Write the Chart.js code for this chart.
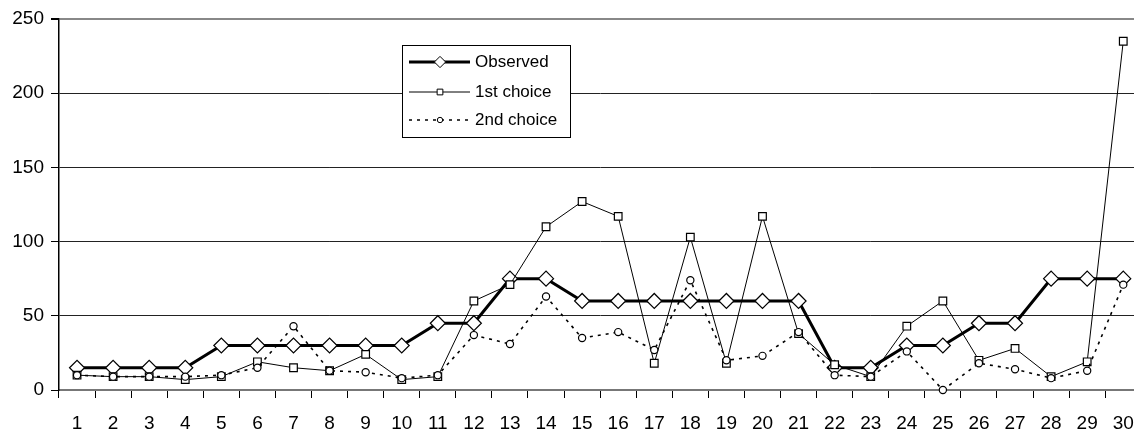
<!DOCTYPE html>
<html>
<head>
<meta charset="utf-8">
<script src="https://cdn.jsdelivr.net/npm/chart.js@4/dist/chart.umd.min.js"></script>
<style>
  html, body { margin: 0; padding: 0; background: #fff; overflow: hidden; }
  #wrap { width: 1150px; height: 431px; }
</style>
</head>
<body>
<div id="wrap"><canvas id="chart" width="1150" height="431"></canvas></div>
<script>
// data
const categories = ['1','2','3','4','5','6','7','8','9','10','11','12','13','14','15',
  '16','17','18','19','20','21','22','23','24','25','26','27','28','29','30'];
const observed = [15, 15, 15, 15, 30, 30, 30, 30, 30, 30, 45, 45, 75, 75, 60,
  60, 60, 60, 60, 60, 60, 15, 15, 30, 30, 45, 45, 75, 75, 75];
const firstChoice = [10, 9, 9, 7, 9, 19, 15, 13, 24, 7, 9, 60, 71, 110, 127,
  117, 18, 103, 18, 117, 38, 17, 9, 43, 60, 20, 28, 9, 19, 235];
const secondChoice = [10, 9, 9, 9, 10, 15, 43, 13, 12, 8, 10, 37, 31, 63, 35,
  39, 27, 74, 20, 23, 39, 10, 9, 26, 0, 18, 14, 8, 13, 71];
const yTicks = [0, 50, 100, 150, 200, 250];

const FONT = 'Liberation Sans, Arial, sans-serif';

// legend box drawn like the excel one: line + marker + label
const boxLegend = {
  id: 'boxLegend',
  afterDraw(chart) {
    const ctx = chart.ctx;
    const x = 402, y = 45, w = 168, h = 92;
    ctx.save();
    ctx.fillStyle = '#fff';
    ctx.fillRect(x, y, w, h);
    ctx.strokeStyle = '#000';
    ctx.lineWidth = 1;
    ctx.strokeRect(x + 0.5, y + 0.5, w, h);
    const rows = [62, 92, 120];
    chart.data.datasets.forEach((ds, i) => {
      const ry = rows[i];
      ctx.strokeStyle = '#000';
      ctx.lineWidth = ds.borderWidth;
      ctx.setLineDash(ds.borderDash || []);
      ctx.beginPath();
      ctx.moveTo(409, ry);
      ctx.lineTo(470, ry);
      ctx.stroke();
      ctx.setLineDash([]);
      ctx.fillStyle = '#fff';
      ctx.lineWidth = 1;
      Chart.helpers.drawPoint(ctx, {
        pointStyle: ds.pointStyle,
        radius: ds.pointRadius * 0.75,
        borderWidth: 1
      }, 440, ry);
      ctx.fillStyle = '#000';
      ctx.font = '17px ' + FONT;
      ctx.textBaseline = 'middle';
      ctx.fillText(ds.label, 475, ry);
    });
    ctx.restore();
  }
};

new Chart(document.getElementById('chart'), {
  type: 'line',
  data: {
    labels: categories,
    datasets: [
      {
        label: 'Observed',
        data: observed,
        borderColor: '#000',
        borderWidth: 3,
        pointStyle: 'rectRot',
        pointRadius: 7.5,
        pointBackgroundColor: '#fff',
        pointBorderColor: '#000',
        pointBorderWidth: 1.2,
        order: 3,
        clip: false
      },
      {
        label: '1st choice',
        data: firstChoice,
        borderColor: '#000',
        borderWidth: 1,
        pointStyle: 'rect',
        pointRadius: 5.4,
        pointBackgroundColor: '#fff',
        pointBorderColor: '#000',
        pointBorderWidth: 1.2,
        order: 2,
        clip: false
      },
      {
        label: '2nd choice',
        data: secondChoice,
        borderColor: '#000',
        borderWidth: 1.6,
        borderDash: [3, 5],
        pointStyle: 'circle',
        pointRadius: 3.6,
        pointBackgroundColor: '#fff',
        pointBorderColor: '#000',
        pointBorderWidth: 1.2,
        order: 1,
        clip: false
      }
    ]
  },
  options: {
    responsive: false,
    animation: false,
    layout: { padding: { top: 19, right: 4, left: 0, bottom: 0 } },
    plugins: {
      legend: { display: false },
      tooltip: { enabled: false }
    },
    scales: {
      x: {
        offset: true,
        grid: {
          offset: true,
          drawOnChartArea: false,
          drawTicks: true,
          tickLength: 8,
          color: '#000'
        },
        border: { color: '#777', width: 2 },
        ticks: {
          color: '#000',
          font: { family: FONT, size: 19 },
          padding: 14,
          maxRotation: 0,
          autoSkip: false
        },
        afterFit(scale) { scale.height = 41; }
      },
      y: {
        min: 0,
        max: 250,
        afterBuildTicks(scale) { scale.ticks = yTicks.map(v => ({ value: v })); },
        grid: {
          color: ctx => (ctx.tick && ctx.tick.value === 250) ? '#888' : '#222',
          lineWidth: ctx => (ctx.tick && ctx.tick.value === 250) ? 2 : 1,
          tickLength: 8,
          tickColor: '#000'
        },
        border: { color: '#000', width: 1.5 },
        ticks: {
          color: '#000',
          font: { family: FONT, size: 19 },
          padding: 7
        },
        afterFit(scale) { scale.width = 59; }
      }
    }
  },
  plugins: [boxLegend]
});
</script>
</body>
</html>
